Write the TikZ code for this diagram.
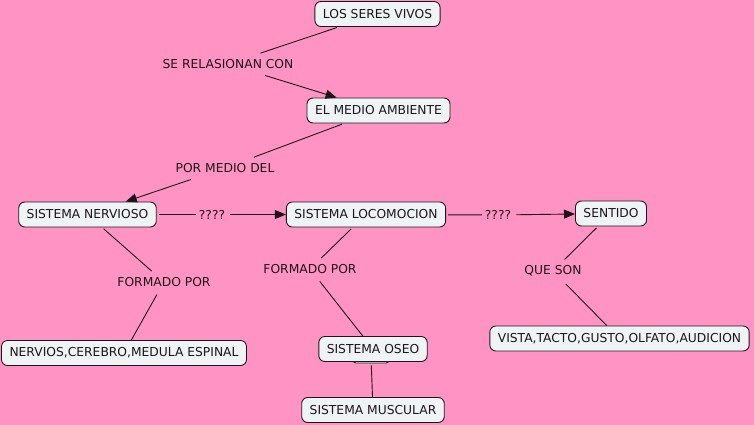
\documentclass[tikz,border=0pt]{standalone}
\usepackage{fontspec}
\setmainfont{DejaVu Sans}
\usetikzlibrary{arrows.meta}

\definecolor{bgpink}{RGB}{255,148,196}
\definecolor{boxfill}{RGB}{238,243,245}
\definecolor{inkdark}{RGB}{30,20,25}

\tikzset{
  concept/.style={draw=inkdark, fill=boxfill, rounded corners=6pt, line width=0.9pt,
    inner xsep=8pt, inner ysep=0pt, minimum height=25pt, text=inkdark,
    font=\fontsize{12.3}{14}\selectfont},
  linkword/.style={inner xsep=3pt, inner ysep=6pt, text=inkdark,
    font=\fontsize{12.3}{14}\selectfont},
  link/.style={draw=inkdark, line width=0.9pt, shorten <=2pt},
  linkarrow/.style={link, -{Triangle[length=11pt,width=9pt]}}
}

\begin{document}
\begin{tikzpicture}[x=1pt,y=-1pt]
\fill[bgpink] (0,0) rectangle (754,425);
\useasboundingbox (0,0) rectangle (754,425);

% concepts
\node[concept] (seres) at (377.5,14) {LOS SERES VIVOS};
\node[concept] (medio) at (378.5,110.5) {EL MEDIO AMBIENTE};
\node[concept] (nervioso) at (87.5,214.5) {SISTEMA NERVIOSO};
\node[concept] (locomocion) at (366,214.5) {SISTEMA LOCOMOCION};
\node[concept] (sentido) at (611,213.5) {SENTIDO};
\node[concept] (nervios) at (124,353) {NERVIOS,CEREBRO,MEDULA ESPINAL};
\node[concept, minimum width=36pt, minimum height=12pt, rounded corners=3pt] (oculto) at (371,357) {};
\node[concept] (oseo) at (373,349) {SISTEMA OSEO};
\node[concept] (muscular) at (373,410) {SISTEMA MUSCULAR};
\node[concept] (vista) at (619.5,338.5) {VISTA,TACTO,GUSTO,OLFATO,AUDICION};

% linking phrases
\node[linkword] (relasionan) at (228,64) {SE RELASIONAN CON};
\node[linkword] (pormedio) at (225,168) {POR MEDIO DEL};
\node[linkword] (preg1) at (212,214.5) {????};
\node[linkword] (preg2) at (498,215) {????};
\node[linkword] (formado1) at (164,282) {FORMADO POR};
\node[linkword] (formado2) at (310,269) {FORMADO POR};
\node[linkword] (queson) at (553,271) {QUE SON};

% connectors
\draw[link] (seres) -- (relasionan);
\draw[linkarrow] (relasionan) -- (medio);
\draw[link] (medio) -- (pormedio);
\draw[linkarrow] (pormedio) -- (nervioso);
\draw[link] (nervioso) -- (preg1);
\draw[linkarrow] (preg1) -- (locomocion);
\draw[link] (locomocion) -- (preg2);
\draw[linkarrow] (preg2) -- (sentido);
\draw[link] (nervioso) -- (formado1);
\draw[link] (formado1) -- (nervios);
\draw[link] (locomocion) -- (formado2);
\draw[link] (formado2) -- (oseo);
\draw[link] (oculto) -- (muscular);
\draw[link] (sentido) -- (queson);
\draw[link] (queson) -- (vista);
\end{tikzpicture}
\end{document}
